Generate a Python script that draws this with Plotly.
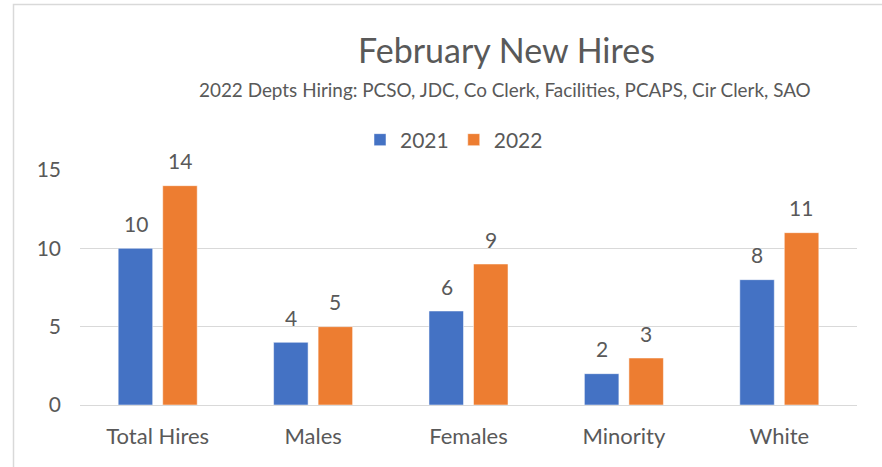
import plotly.graph_objects as go

categories = ["Total Hires", "Males", "Females", "Minority", "White"]
values_2021 = [10, 4, 6, 2, 8]
values_2022 = [14, 5, 9, 3, 11]
series_names = ["2021", "2022"]
title_text = "February New Hires"
subtitle_text = "2022 Depts Hiring: PCSO, JDC, Co Clerk, Facilities, PCAPS, Cir Clerk, SAO"
tick_values = [0, 5, 10, 15]

W, H = 882, 467
ML, MR, MT, MB = 80, 25, 170, 62
pw, ph = W - ML - MR, H - MT - MB

def px(x):
    return (x - ML) / pw

def py(y):
    return (H - MB - y) / ph

FONT = "Lato"
GRAY = "#595959"
BLUE = "#4472C4"
ORANGE = "#ED7D31"

fig = go.Figure()
fig.add_trace(go.Bar(x=categories, y=values_2021, name=series_names[0],
                     marker=dict(color=BLUE, line=dict(color="white", width=0.5))))
fig.add_trace(go.Bar(x=categories, y=values_2022, name=series_names[1],
                     marker=dict(color=ORANGE, line=dict(color="white", width=0.5))))

annotations = []
for vals, xs in ((values_2021, -22), (values_2022, 22)):
    for c, v in zip(categories, vals):
        annotations.append(dict(x=c, y=v, xref="x", yref="y", text=str(v),
                                showarrow=False, xshift=xs, yshift=25,
                                yanchor="middle",
                                font=dict(family=FONT, size=21, color=GRAY)))

annotations.append(dict(x=px(506), y=py(50), xref="paper", yref="paper",
                        text=title_text, showarrow=False, xanchor="center", yanchor="middle",
                        font=dict(family=FONT, size=34, color=GRAY)))
annotations.append(dict(x=px(505), y=py(90), xref="paper", yref="paper",
                        text=subtitle_text, showarrow=False, xanchor="center", yanchor="middle",
                        font=dict(family=FONT, size=18.9, color=GRAY)))

fig.update_layout(
    width=W, height=H,
    margin=dict(l=ML, r=MR, t=MT, b=MB),
    paper_bgcolor="white", plot_bgcolor="white",
    barmode="group", bargap=0.427, bargroupgap=0.225,
    showlegend=True,
    legend=dict(orientation="h", x=px(454), y=py(140), xanchor="center", yanchor="middle",
                font=dict(family=FONT, size=21, color=GRAY),
                itemwidth=30, traceorder="normal"),
    annotations=annotations,
    shapes=[dict(type="rect", xref="paper", yref="paper",
                 x0=px(13.5), x1=px(900), y0=py(490), y1=py(4.5),
                 line=dict(color="#D9D9D9", width=1.5), fillcolor="rgba(0,0,0,0)", layer="below")],
    font=dict(family=FONT, color=GRAY),
)
fig.update_yaxes(range=[0, 15], tickvals=tick_values, showgrid=True, gridcolor="#D9D9D9",
                 gridwidth=1, zeroline=False, showline=False,
                 tickfont=dict(family=FONT, size=21, color=GRAY), ticklabelstandoff=18)
fig.update_xaxes(showline=True, linecolor="#D9D9D9", linewidth=1,
                 tickfont=dict(family=FONT, size=22, color=GRAY), ticklabelstandoff=12)

fig.write_html("out.html", config={"displayModeBar": False},
               post_script="document.body.style.margin='0';document.body.style.overflow='hidden';")
